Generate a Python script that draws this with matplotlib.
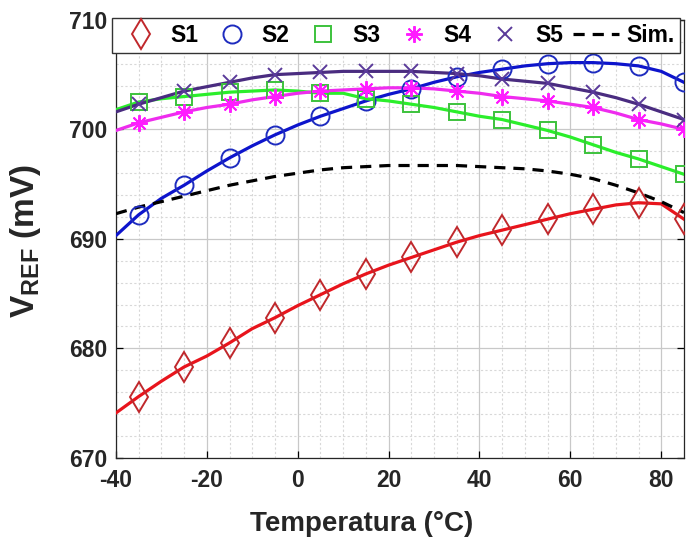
import matplotlib
matplotlib.use("Agg")
import matplotlib.pyplot as plt
from matplotlib.ticker import MultipleLocator

plt.rcParams['font.family'] = ['Liberation Sans', 'DejaVu Sans']
plt.rcParams['font.weight'] = 'bold'
plt.rcParams['axes.unicode_minus'] = False
plt.rcParams['mathtext.fontset'] = 'custom'
plt.rcParams['mathtext.rm'] = 'Liberation Sans:bold'
plt.rcParams['mathtext.bf'] = 'Liberation Sans:bold'
plt.rcParams['mathtext.it'] = 'Liberation Sans:bold'

# Temperature grid (°C)
temp = [-40, -35, -30, -25, -20, -15, -10, -5, 0, 5, 10, 15, 20,
        25, 30, 35, 40, 45, 50, 55, 60, 65, 70, 75, 80, 85]

s1 = [674.1, 675.6, 677.0, 678.3, 679.3, 680.5, 681.8, 682.8, 683.9, 684.9, 685.9, 686.8, 687.6,
      688.3, 689.0, 689.7, 690.3, 690.8, 691.3, 691.8, 692.3, 692.7, 693.1, 693.3, 693.2, 691.8]
s2 = [690.3, 692.2, 693.7, 694.9, 696.2, 697.4, 698.5, 699.5, 700.4, 701.2, 701.9, 702.6, 703.2,
      703.7, 704.3, 704.8, 705.2, 705.5, 705.8, 706.0, 706.1, 706.1, 706.0, 705.8, 705.3, 704.3]
s3 = [701.8, 702.5, 702.8, 703.0, 703.2, 703.4, 703.5, 703.6, 703.5, 703.3, 703.3, 702.8, 702.6,
      702.3, 702.0, 701.6, 701.2, 700.9, 700.4, 699.9, 699.3, 698.6, 697.9, 697.3, 696.6, 695.9]
s4 = [699.9, 700.6, 701.1, 701.6, 702.0, 702.3, 702.7, 703.0, 703.3, 703.5, 703.6, 703.7, 703.8,
      703.8, 703.7, 703.5, 703.3, 703.0, 702.8, 702.6, 702.3, 702.0, 701.5, 700.9, 700.5, 700.0]
s5 = [701.6, 702.3, 702.9, 703.5, 703.9, 704.3, 704.7, 705.0, 705.1, 705.2, 705.3, 705.3, 705.3,
      705.3, 705.2, 705.1, 704.9, 704.6, 704.4, 704.2, 703.8, 703.4, 702.9, 702.3, 701.6, 700.9]
sim = [692.3, 692.9, 693.4, 693.9, 694.4, 694.9, 695.3, 695.7, 696.0, 696.3, 696.5, 696.6, 696.7,
       696.7, 696.7, 696.7, 696.6, 696.5, 696.4, 696.2, 695.9, 695.5, 694.9, 694.2, 693.4, 692.4]

labels = ['S1', 'S2', 'S3', 'S4', 'S5', 'Sim.']

fig = plt.figure(figsize=(6.86, 5.38), dpi=100)
ax = fig.add_axes([0.169, 0.149, 0.828, 0.814])

me = slice(1, None, 2)
series = [
    (s1, '#e8141c', '#c0282c', 'd', 15),
    (s2, '#0d14cc', '#1e2cbf', 'o', 13),
    (s3, '#2bee2b', '#3cc23c', 's', 11),
    (s4, '#ee2cee', '#ff1cff', (8, 2, 0), 12),
    (s5, '#4a2c80', '#5a3a9a', 'x', 10),
]
handles = []
for (vals, lc, mc, mk, ms), lab in zip(series, labels):
    ax.plot(temp, vals, color=lc, lw=2.3, zorder=3)
    h, = ax.plot(temp, vals, ls='none', marker=mk, markevery=me, ms=ms,
                 mfc='none', mec=mc, mew=1.4, zorder=4, label=lab)
    handles.append(h)
hs, = ax.plot(temp, sim, color='black', ls=(0, (3.5, 2.5)), lw=2.3, zorder=3, label='Sim.')
handles.append(hs)

ax.set_xlim(-40, 85)
ax.set_ylim(670, 710)
ax.xaxis.set_major_locator(MultipleLocator(20))
ax.xaxis.set_minor_locator(MultipleLocator(5))
ax.yaxis.set_major_locator(MultipleLocator(10))
ax.yaxis.set_minor_locator(MultipleLocator(2))
ax.grid(which='major', color='#c8c8c8', lw=0.9, ls='-')
ax.grid(which='minor', color='#d8d8d8', lw=0.8, ls=(0, (2, 2)))
ax.set_axisbelow(True)
ax.tick_params(which='both', direction='in', top=True, right=True)
ax.tick_params(which='major', length=5, width=0.9, labelsize=16.5, labelcolor='#262626')
ax.tick_params(axis='x', which='major', pad=8)
ax.tick_params(axis='y', which='major', pad=6)
ax.tick_params(which='minor', length=0)
for sp in ax.spines.values():
    sp.set_color('#262626')
    sp.set_linewidth(0.9)
for t in ax.get_xticklabels() + ax.get_yticklabels():
    t.set_fontweight('bold')

ax.set_xlabel('Temperatura (°C)', fontsize=20, fontweight='bold', color='#262626')
ax.xaxis.set_label_coords(0.433, -0.122)
ax.set_ylabel(r'V$_{\mathrm{REF}}$ (mV)', fontsize=24, fontweight='bold', color='#262626')
ax.yaxis.set_label_coords(-0.128, 0.495)

leg = ax.legend(handles=handles, loc='lower left', bbox_to_anchor=(-0.007, 0.925, 1.0, 0.07),
                mode='expand', ncol=6, fontsize=16.5, frameon=True, fancybox=False,
                edgecolor='#333333', framealpha=1, handlelength=2.0, handletextpad=0.3,
                columnspacing=0.3, borderaxespad=0, borderpad=0.25)
leg.get_frame().set_linewidth(1.0)
for t in leg.get_texts():
    t.set_fontweight('bold')
leg.set_zorder(10)

fig.savefig('out.png', dpi=100)
